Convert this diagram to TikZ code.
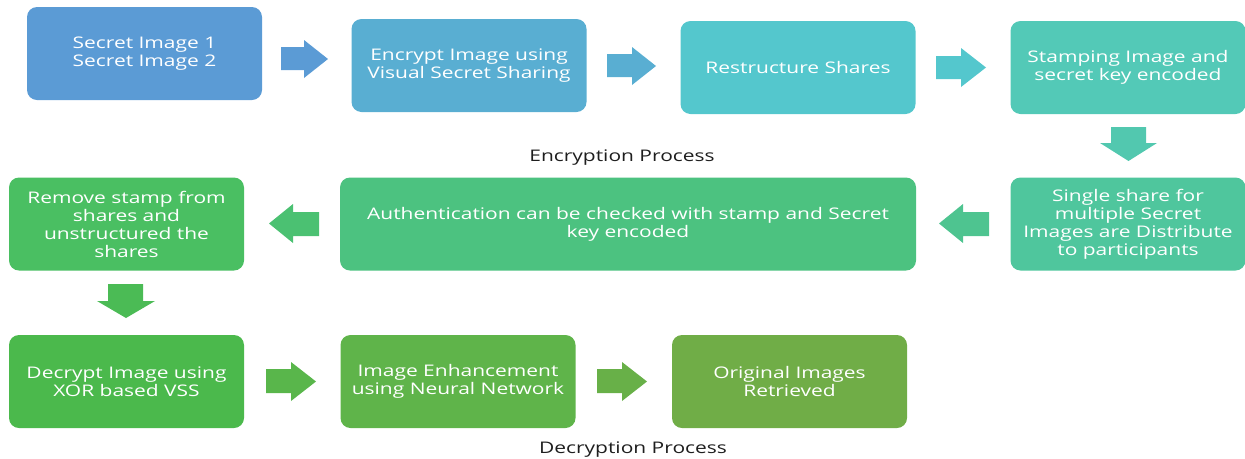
\documentclass[tikz,border=0pt]{standalone}
\usepackage{fontspec}
\setmainfont{Open Sans}[FakeStretch=1.31]
\usepackage{tikz}

\definecolor{stepA}{RGB}{91,155,213}
\definecolor{stepB}{RGB}{89,174,210}
\definecolor{stepC}{RGB}{84,199,205}
\definecolor{stepD}{RGB}{83,201,183}
\definecolor{stepE}{RGB}{79,198,157}
\definecolor{stepF}{RGB}{76,194,128}
\definecolor{stepG}{RGB}{74,191,98}
\definecolor{stepH}{RGB}{75,185,76}
\definecolor{stepI}{RGB}{95,180,74}
\definecolor{stepJ}{RGB}{112,173,71}
\definecolor{captiongray}{RGB}{30,30,30}

\tikzset{
  procbox/.style={rounded corners=7.5pt, minimum width=176.25pt, minimum height=69.75pt,
    inner sep=0.75pt, align=center, text=white, font=\fontsize{12}{13.5}\selectfont},
  caption/.style={inner sep=0.75pt, text=captiongray, font=\fontsize{12}{13.5}\selectfont}
}

\begin{document}
\begin{tikzpicture}[x=0.75pt,y=0.75pt,yscale=-1,xscale=1]

            \useasboundingbox (0,0) rectangle (1245,458);

            % Encryption row
            \node [procbox, fill=stepA] (secret) at (144.5,53.5) {Secret Image 1\\Secret Image 2};
            \node [procbox, fill=stepB] (encrypt) at (469,65.5) {Encrypt Image using\\Visual Secret Sharing};
            \node [procbox, fill=stepC] (restructure) at (798,67.5) {Restructure Shares};
            \node [procbox, fill=stepD] (stamping) at (1128,67.5) {Stamping Image and\\secret key encoded};

            % Distribution row
            \node [procbox, fill=stepE] (single) at (1128,224) {Single share for\\multiple Secret\\Images are Distribute\\to participants};
            \node [procbox, fill=stepF, minimum width=432pt] (auth) at (628,224) {Authentication can be checked with stamp and Secret\\key encoded};
            \node [procbox, fill=stepG] (remove) at (126.5,224) {Remove stamp from\\shares and\\unstructured the\\shares};

            % Decryption row
            \node [procbox, fill=stepH] (decrypt) at (126.5,381.5) {Decrypt Image using\\XOR based VSS};
            \node [procbox, fill=stepI] (enhance) at (458,381.5) {Image Enhancement\\using Neural Network};
            \node [procbox, fill=stepJ] (original) at (789.5,381.5) {Original Images\\Retrieved};

            % Block arrows
            \fill [stepA] (281,47) -- (304,47) -- (304,40) -- (328,59) -- (304,78) -- (304,70) -- (281,70) -- cycle;
            \fill [stepB!98!stepC] (607,54) -- (632,54) -- (632,47) -- (656,66) -- (632,85) -- (632,77) -- (607,77) -- cycle;
            \fill [stepC] (936,56) -- (961,56) -- (961,48) -- (986,67.5) -- (961,87) -- (961,79) -- (936,79) -- cycle;
            \fill [stepD!70!stepE] (1111,127) -- (1146,127) -- (1146,143) -- (1157,143) -- (1128.5,161) -- (1100,143) -- (1111,143) -- cycle;
            \fill [stepE!55!stepF] (989,212) -- (963,212) -- (963,204) -- (939,223.5) -- (963,243) -- (963,236) -- (989,236) -- cycle;
            \fill [stepF!55!stepG] (319,212) -- (293,212) -- (293,204) -- (269,223.5) -- (293,243) -- (293,236) -- (319,236) -- cycle;
            \fill [stepG!40!stepH] (108,284) -- (143,284) -- (143,301) -- (155,301) -- (126,318) -- (97,301) -- (108,301) -- cycle;
            \fill [stepH!30!stepI] (266,369) -- (291,369) -- (291,362) -- (316,381.5) -- (291,401) -- (291,393) -- (266,393) -- cycle;
            \fill [stepI!45!stepJ] (597,369) -- (622,369) -- (622,362) -- (647,381.5) -- (622,401) -- (622,393) -- (597,393) -- cycle;

            % Captions
            \node [caption] (enccap) at (622,157.5) {Encryption Process};
            \node [caption] (deccap) at (633,450) {Decryption Process};

\end{tikzpicture}
\end{document}
